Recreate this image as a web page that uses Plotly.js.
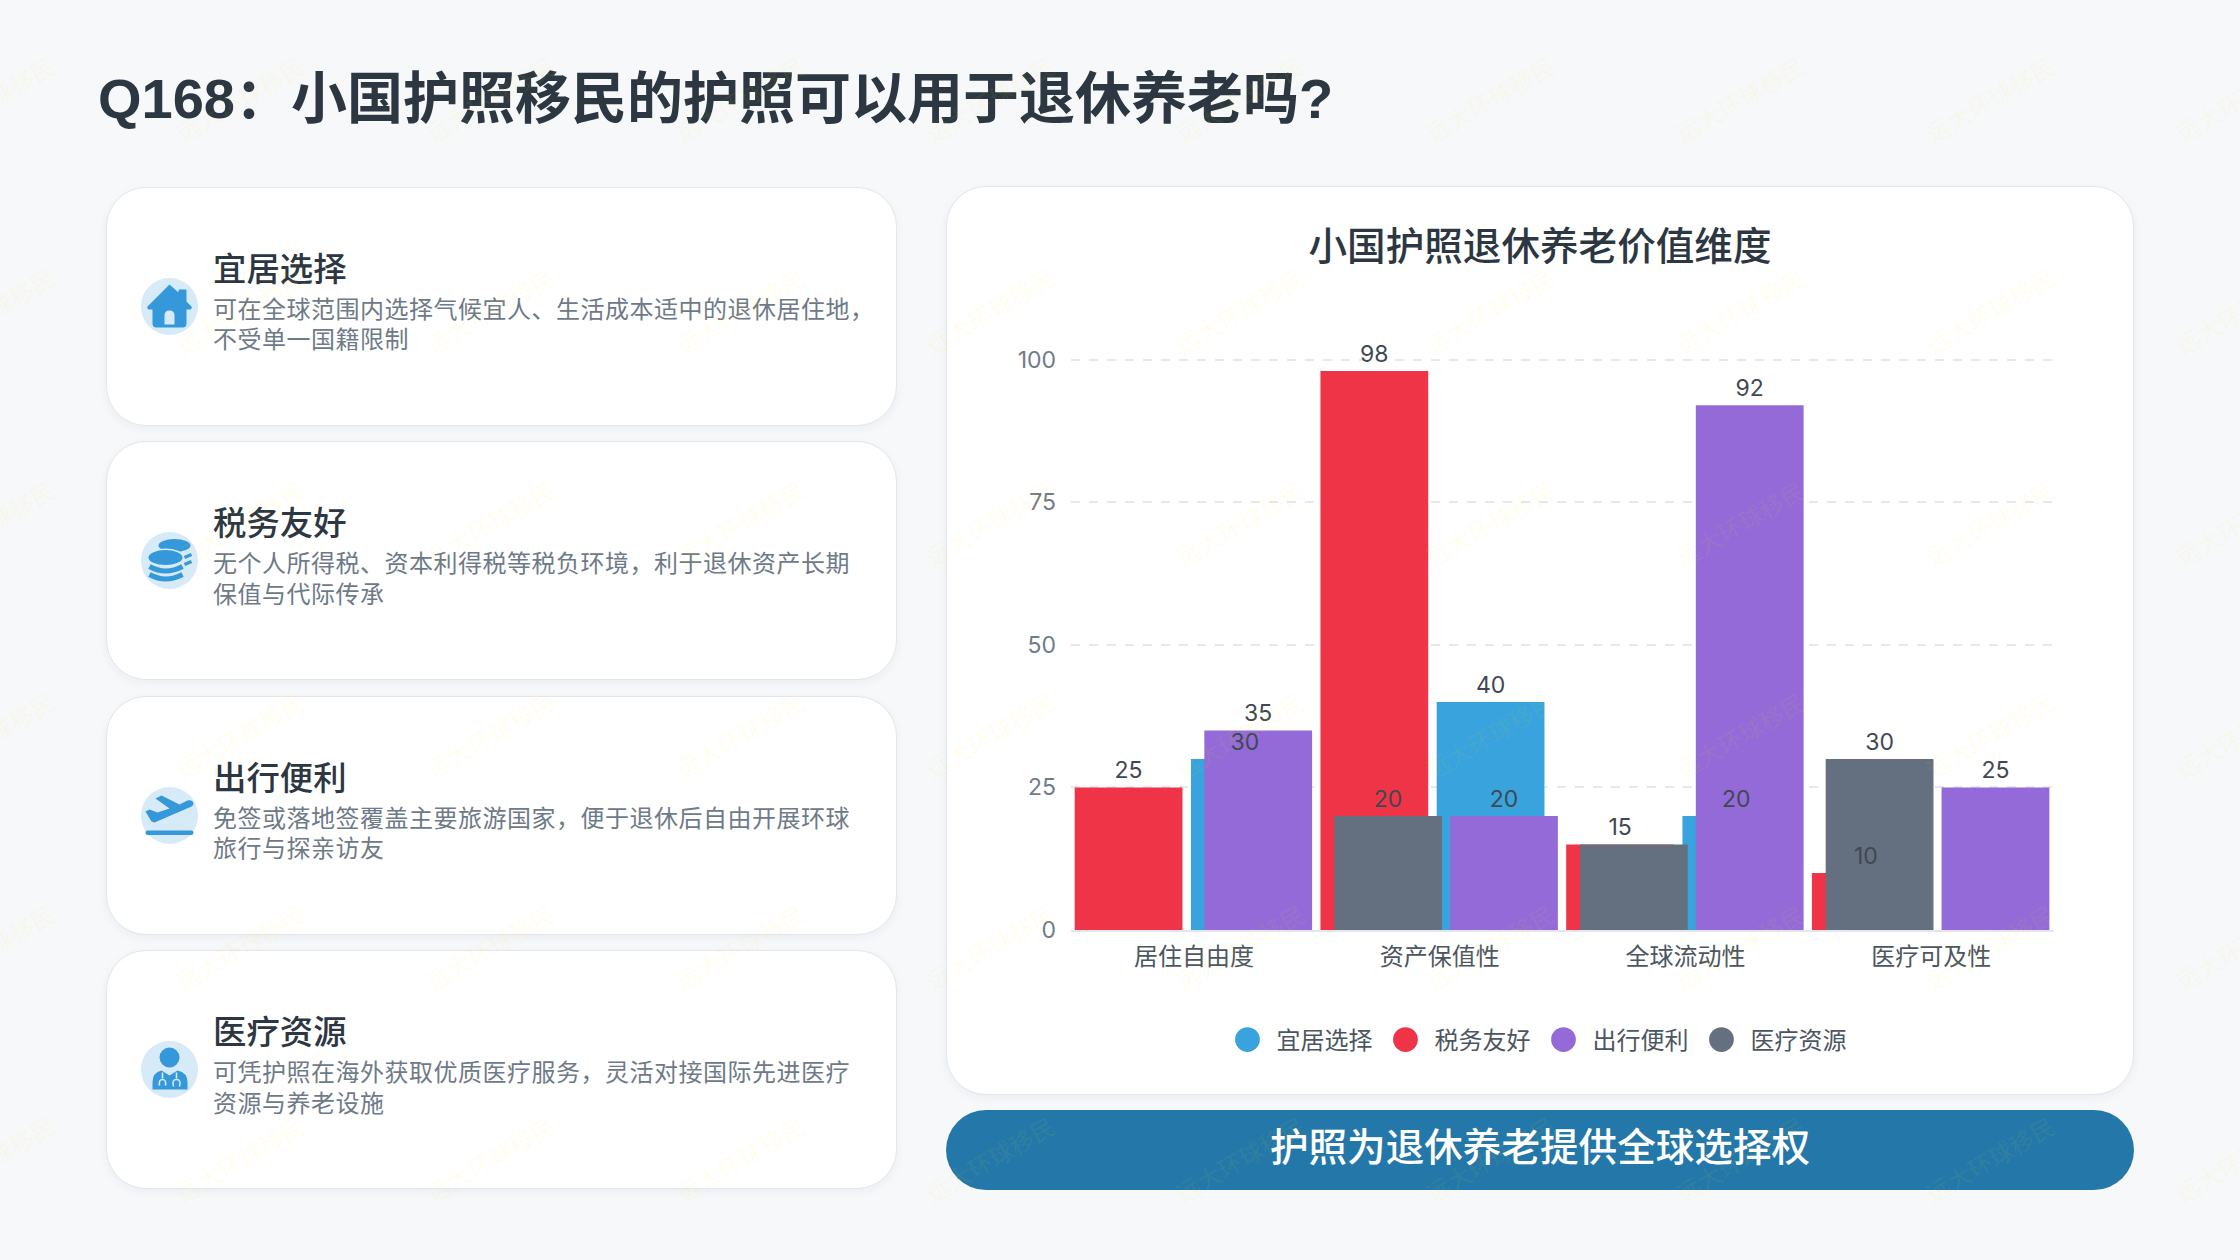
<!DOCTYPE html>
<html lang="zh">
<head>
<meta charset="utf-8">
<title>Q168</title>
<script src="https://cdn.plot.ly/plotly-3.0.1.min.js"></script>
<style>
    html, body { margin: 0; padding: 0; }
    body { width: 2240px; height: 1260px; background: #f6f8fa; position: relative; overflow: hidden;
           font-family: "Noto Sans CJK SC", sans-serif; }
    h1 { position: absolute; left: 98px; top: 60px; margin: 0; font-family: "Liberation Sans", "Noto Sans CJK SC", sans-serif;
         font-size: 56px; line-height: 78px; font-weight: 700; color: #2c3742; letter-spacing: 0; white-space: nowrap; }
    .card { position: absolute; left: 106px; width: 791px; height: 239px; box-sizing: border-box; background: #fff;
            border: 1.5px solid #e2e6ee; border-radius: 40px; box-shadow: 0 3px 10px rgba(40, 60, 90, 0.05); }
    .card svg { position: absolute; left: 34px; top: 90px; width: 57px; height: 57px; }
    .card h3 { position: absolute; left: 106px; top: 60px; margin: 0; font-size: 33.4px; line-height: 38px; font-weight: 500; color: #2c3742; }
    .card p { position: absolute; left: 106px; top: 105px; margin: 0; font-size: 24px; line-height: 30.5px;
              color: #6e7a87; letter-spacing: 0.5px; white-space: nowrap; }
    .card p span { display: block; }
    #panel { position: absolute; left: 946px; top: 186px; width: 1188px; height: 909px; box-sizing: border-box; background: #fff;
             border: 1.5px solid #e2e6ee; border-radius: 40px; box-shadow: 0 3px 10px rgba(40, 60, 90, 0.05); }
    #chart { position: absolute; left: 947px; top: 187px; width: 1186px; height: 907px; }
    #banner { position: absolute; left: 946px; top: 1110px; width: 1188px; height: 80px; background: #2478a9; border-radius: 40px;
              color: #fff; text-align: center; font-size: 38.6px; line-height: 68px; font-weight: 500; }
    #marks { position: absolute; left: 0; top: 0; width: 2240px; height: 1260px; pointer-events: none; overflow: hidden; }
    #marks span { position: absolute; width: 200px; margin-left: -100px; margin-top: -16px; text-align: center; font-size: 24px; line-height: 32px;
                  color: rgba(255, 235, 0, 0.075); transform: rotate(-30deg); white-space: nowrap; }
</style>
</head>
<body>
<h1>Q168：小国护照移民的护照可以用于退休养老吗?</h1>

<div class="card" style="top:186.5px">
    <svg viewBox="-28.5 -28.5 57 57"><circle r="28.5" fill="#d6eaf8"/>
        <path d="M0 -22 L9 -14 V-16 Q9 -17 10 -17 H16 Q17 -17 17 -16 V-5 L22 0 Q23 2 21 3 H17 V17 Q17 21 13 21 H-13 Q-17 21 -17 17 V3 H-21 Q-23 2 -22 0 Z" fill="#3498db"/>
        <path d="M-5 18 V9 Q-5 4 0 4 Q5 4 5 9 V18 Z" fill="#d6eaf8"/></svg>
    <h3>宜居选择</h3>
    <p><span>可在全球范围内选择气候宜人、生活成本适中的退休居住地，</span><span>不受单一国籍限制</span></p>
</div>
<div class="card" style="top:441px">
    <svg viewBox="-28.5 -28.5 57 57"><circle r="28.5" fill="#d6eaf8"/>
        <ellipse cx="5" cy="-15" rx="16" ry="6.5" fill="#3498db"/>
        <path d="M15 -3 L22 -6 M15 4 L22 1" stroke="#3498db" stroke-width="3.5" fill="none"/>
        <ellipse cx="-4" cy="-3" rx="17" ry="7.5" fill="#d6eaf8" stroke="#d6eaf8" stroke-width="3"/>
        <ellipse cx="-4" cy="-3" rx="17" ry="7.5" fill="#3498db"/>
        <path d="M-20 6 Q-4 15 13 6 M-20 14 Q-4 23 13 14" stroke="#3498db" stroke-width="5" fill="none"/></svg>
    <h3>税务友好</h3>
    <p><span>无个人所得税、资本利得税等税负环境，利于退休资产长期</span><span>保值与代际传承</span></p>
</div>
<div class="card" style="top:695.5px">
    <svg viewBox="-28.5 -28.5 57 57"><circle r="28.5" fill="#d6eaf8"/>
        <path transform="translate(0,-2)" d="M-24 -2 L-20 -4 L-12 -1 L0 -5 L-14 -15 L-8 -18 L10 -9 L18 -13 Q23 -14 24 -10 Q24 -8 22 -7 L-15 9 L-18 8 Z" fill="#3498db"/>
        <rect x="-24" y="15" width="48" height="4.5" rx="2.2" fill="#3498db"/></svg>
    <h3>出行便利</h3>
    <p><span>免签或落地签覆盖主要旅游国家，便于退休后自由开展环球</span><span>旅行与探亲访友</span></p>
</div>
<div class="card" style="top:950px">
    <svg viewBox="-28.5 -28.5 57 57"><circle r="28.5" fill="#d6eaf8"/>
        <circle cx="0" cy="-12" r="10" fill="#3498db"/>
        <path d="M-17 20 V13 Q-17 3 -8 1 L0 6 L8 1 Q18 3 18 13 V20 Z" fill="#3498db"/>
        <path d="M-7 3 V9 M-10 16 Q-11 10 -7 10 Q-3 10 -4 16 M7 3 V9 M4 17 Q2 10 7 10 Q12 10 10 17" stroke="#d6eaf8" stroke-width="1.6" fill="none"/></svg>
    <h3>医疗资源</h3>
    <p><span>可凭护照在海外获取优质医疗服务，灵活对接国际先进医疗</span><span>资源与养老设施</span></p>
</div>

<div id="panel"></div>
<div id="chart"></div>
<div id="banner">护照为退休养老提供全球选择权</div>
<div id="marks"></div>

<script>
    var categories = ['居住自由度', '资产保值性', '全球流动性', '医疗可及性'];
    var seriesNames = ['宜居选择', '税务友好', '出行便利', '医疗资源'];
    var seriesColors = ['#38a3dc', '#ef3447', '#946ad8', '#64707f'];

    var livable = [30, 40, 20, null];
    var tax = [25, 98, 15, 10];
    var travel = [35, 20, 92, 25];
    var medical = [null, 20, 15, 30];
    var seriesValues = [livable, tax, travel, medical];

    // the reference hides one colliding label, the 15 of the grey series
    var medicalLabels = ['', '20', '', '30'];

    var barWidth = 0.4386;
    var barOffsets = [-0.012, -0.485, 0.0425, -0.429];

    function labelsFor(values) {
        return values.map(function (v) { return v === null ? '' : String(v); });
    }

    var data = [];
    // bars, in draw order
    seriesValues.forEach(function (values, i) {
        data.push({
            type: 'bar', x: categories, y: values, name: seriesNames[i], width: barWidth, offset: barOffsets[i],
            marker: { color: seriesColors[i] }, showlegend: false, hoverinfo: 'x+y'
        });
    });
    // clear bars on top so the value labels are never covered
    seriesValues.forEach(function (values, i) {
        data.push({
            type: 'bar', x: categories, y: values, width: barWidth, offset: barOffsets[i],
            marker: { color: 'rgba(0,0,0,0)', line: { color: 'rgba(0,0,0,0)', width: 7 } }, showlegend: false, hoverinfo: 'skip',
            text: i === 3 ? medicalLabels : labelsFor(values),
            textposition: 'outside', cliponaxis: false, constraintext: 'none',
            textfont: { size: 23, color: '#3f4852', family: 'Inter, "Noto Sans CJK SC", sans-serif' }
        });
    });
    // round legend swatches
    seriesNames.forEach(function (name, i) {
        data.push({
            type: 'scatter', mode: 'markers', x: [categories[0]], y: [null], name: name,
            marker: { color: seriesColors[i], size: 16, line: { color: seriesColors[i], width: 5 } }
        });
    });

    var layout = {
        width: 1186,
        height: 907,
        margin: { l: 124, r: 79, t: 171, b: 164 },
        paper_bgcolor: 'rgba(0,0,0,0)',
        plot_bgcolor: 'rgba(0,0,0,0)',
        barmode: 'overlay',
        font: { family: 'Inter, "Noto Sans CJK SC", sans-serif' },
        title: {
            text: '小国护照退休养老价值维度',
            font: { size: 38.6, weight: 500, color: '#2c3742', family: '"Noto Sans CJK SC", sans-serif' },
            x: 0.5, xanchor: 'center', y: 0.934, yanchor: 'middle'
        },
        xaxis: {
            range: [-0.5, 3.5], tickfont: { size: 24, color: '#4c5661', family: '"Noto Sans CJK SC", sans-serif' },
            showgrid: false, zeroline: false, showline: true, linecolor: '#e3e5ef', linewidth: 2, ticks: '', ticklabelstandoff: 4
        },
        yaxis: {
            range: [0, 100.3], tick0: 0, dtick: 25, tickfont: { size: 23, color: '#717c88' },
            gridcolor: '#e6e8f0', griddash: 'dash', gridwidth: 1.5, zeroline: false, showline: false, ticks: '', ticklabelstandoff: 14
        },
        legend: {
            orientation: 'h', x: 0.4715, xanchor: 'center', y: 1 - 853 / 907, yanchor: 'middle', yref: 'container',
            font: { size: 24, color: '#4c5661', family: '"Noto Sans CJK SC", sans-serif' },
            itemwidth: 48, entrywidth: 95, entrywidthmode: 'pixels', itemclick: false, itemdoubleclick: false
        }
    };

    Plotly.newPlot('chart', data, layout, { displayModeBar: false, responsive: false }).then(function (gd) {
        // plotly caps legend markers below the size used in the reference
        gd.querySelectorAll('.legend .legendpoints path').forEach(function (p) {
            var t = p.getAttribute('transform') || '';
            p.setAttribute('transform', t + ' scale(1.18)');
        });
    });

    // faint repeated watermark over the whole page
    var marks = document.getElementById('marks');
    for (var row = -2; row < 4; row++) {
        for (var col = -7; col < 3; col++) {
            var s = document.createElement('span');
            s.textContent = '远大环球移民';
            s.style.left = (1740 + col * 250) + 'px';
            s.style.top = (523 + row * 212) + 'px';
            marks.appendChild(s);
        }
    }
</script>
</body>
</html>
